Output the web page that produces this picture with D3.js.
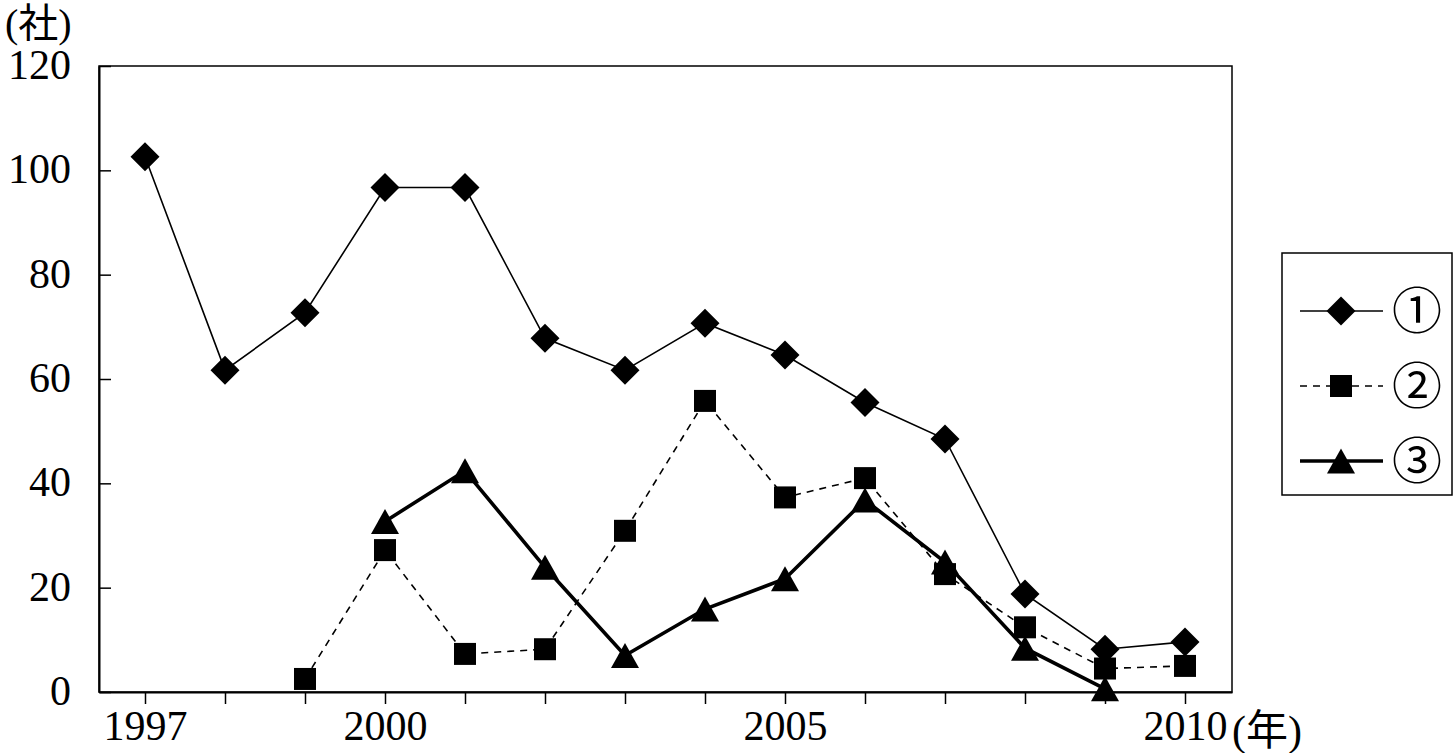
<!DOCTYPE html>
<html>
<head>
<meta charset="utf-8">
<script src="https://cdnjs.cloudflare.com/ajax/libs/d3/7.8.5/d3.min.js"></script>
<style>
  body { margin: 0; background: #fff; }
  text { font-family: "Liberation Serif", "DejaVu Serif", "Noto Sans CJK JP", serif; fill: #000; }
  .cjk { font-family: "Liberation Serif", "Noto Sans CJK JP", serif; }
</style>
</head>
<body>
<svg id="chart" width="1454" height="753"></svg>
<script>
// data
var years = [1997, 1998, 1999, 2000, 2001, 2002, 2003, 2004, 2005, 2006, 2007, 2008, 2009, 2010]
var series1 = [102.6, 61.7, 72.7, 96.7, 96.7, 67.8, 61.7, 70.7, 64.6, 55.5, 48.5, 18.8, 8.2, 9.6]
var series2 = [null, null, 2.5, 27.2, 7.3, 8.2, 30.9, 55.8, 37.3, 41, 22.6, 12.4, 4.5, 5]
var series3 = [null, null, null, 32.7, 42.4, 23.9, 7, 15.9, 21.7, 36.8, 24.9, 8.4, 0.6, null]
var seriesNames = ["①", "②", "③"]
var yTicks = [0, 20, 40, 60, 80, 100, 120]
var xLabels = [1997, 2000, 2005, 2010]

var svg = d3.select('#chart')
var plotL = 99, plotR = 1232, plotT = 66, plotB = 692

var x = d3.scaleLinear()
    .domain([1997 - 0.575, 2010 + 0.5875])
    .range([plotL, plotR])
var y = d3.scaleLinear()
    .domain([0, 120])
    .range([plotB, plotT])

// frame
svg.append('rect')
    .attr('x', plotL).attr('y', plotT)
    .attr('width', plotR - plotL).attr('height', plotB - plotT)
    .attr('fill', 'none').attr('stroke', '#000').attr('stroke-width', 1.5)

// y axis, ticks pointing inside
var yAxis = d3.axisLeft(y).tickValues(yTicks).tickSizeInner(-12).tickSizeOuter(0).tickPadding(28).tickFormat(d3.format('d'))
var gy = svg.append('g').attr('transform', 'translate(' + plotL + ',0)').call(yAxis)
gy.select('.domain').attr('stroke-width', 2)
gy.selectAll('.tick line').attr('stroke-width', 1.5)
gy.selectAll('.tick text').attr('font-size', 42).attr('dy', '0.3em').attr('fill', '#000')
    .style('font-family', '"Liberation Serif", serif')

// x axis, ticks pointing outside
var xAxis = d3.axisBottom(x).tickValues(years).tickSizeInner(12).tickSizeOuter(0).tickPadding(10)
    .tickFormat(function(d){ return xLabels.indexOf(d) >= 0 ? d : '' })
var gx = svg.append('g').attr('transform', 'translate(0,' + plotB + ')').call(xAxis)
gx.select('.domain').attr('stroke-width', 2)
gx.selectAll('.tick line').attr('stroke-width', 1.5)
gx.selectAll('.tick text').attr('font-size', 42).attr('dy', '0.62em').attr('fill', '#000')
    .style('font-family', '"Liberation Serif", serif')

// unit labels
svg.append('text').attr('class', 'cjk').attr('x', 5).attr('y', 37)
    .attr('font-size', 40).text('(社)')
svg.append('text').attr('class', 'cjk').attr('x', 1232).attr('y', 745)
    .attr('font-size', 42).text('(年)')

// marker paths centred on 0,0
function diamond(r){ return 'M0,' + (-r) + 'L' + r + ',0L0,' + r + 'L' + (-r) + ',0Z' }
function square(s){ var h = s / 2; return 'M' + (-h) + ',' + (-h) + 'H' + h + 'V' + h + 'H' + (-h) + 'Z' }
function triangle(w, h){ return 'M0,' + (-h / 2) + 'L' + (w / 2) + ',' + (h / 2) + 'L' + (-w / 2) + ',' + (h / 2) + 'Z' }

var styles = [
  { data: series1, width: 1.6, dash: null, marker: diamond(14.5) },
  { data: series2, width: 1.6, dash: '7,6', marker: square(22) },
  { data: series3, width: 3.6, dash: null, marker: triangle(28, 25) }
]

var line = d3.line()
    .defined(function(d){ return d.v != null })
    .x(function(d){ return x(d.year) })
    .y(function(d){ return y(d.v) })

styles.forEach(function(s){
  var pts = years.map(function(yr, i){ return { year: yr, v: s.data[i] } })
  svg.append('path')
      .datum(pts)
      .attr('d', line)
      .attr('fill', 'none')
      .attr('stroke', '#000')
      .attr('stroke-width', s.width)
      .attr('stroke-dasharray', s.dash)
  svg.append('g').selectAll('path')
      .data(pts.filter(function(d){ return d.v != null }))
      .enter().append('path')
      .attr('d', s.marker)
      .attr('transform', function(d){ return 'translate(' + x(d.year) + ',' + y(d.v) + ')' })
      .attr('fill', '#000')
})

// legend
var legend = svg.append('g')
legend.append('rect')
    .attr('x', 1282).attr('y', 253).attr('width', 170).attr('height', 242)
    .attr('fill', '#fff').attr('stroke', '#000').attr('stroke-width', 1.5)
var legendY = [311, 386, 461]
styles.forEach(function(s, i){
  legend.append('line')
      .attr('x1', 1300).attr('x2', 1383)
      .attr('y1', legendY[i]).attr('y2', legendY[i])
      .attr('stroke', '#000').attr('stroke-width', s.width)
      .attr('stroke-dasharray', s.dash)
  legend.append('path')
      .attr('d', s.marker)
      .attr('transform', 'translate(1341,' + legendY[i] + ')')
      .attr('fill', '#000')
  legend.append('text')
      .attr('class', 'cjk')
      .attr('x', 1417).attr('y', legendY[i])
      .attr('dy', '0.36em')
      .attr('text-anchor', 'middle')
      .attr('font-size', 50)
      .text(seriesNames[i])
})
</script>
</body>
</html>
